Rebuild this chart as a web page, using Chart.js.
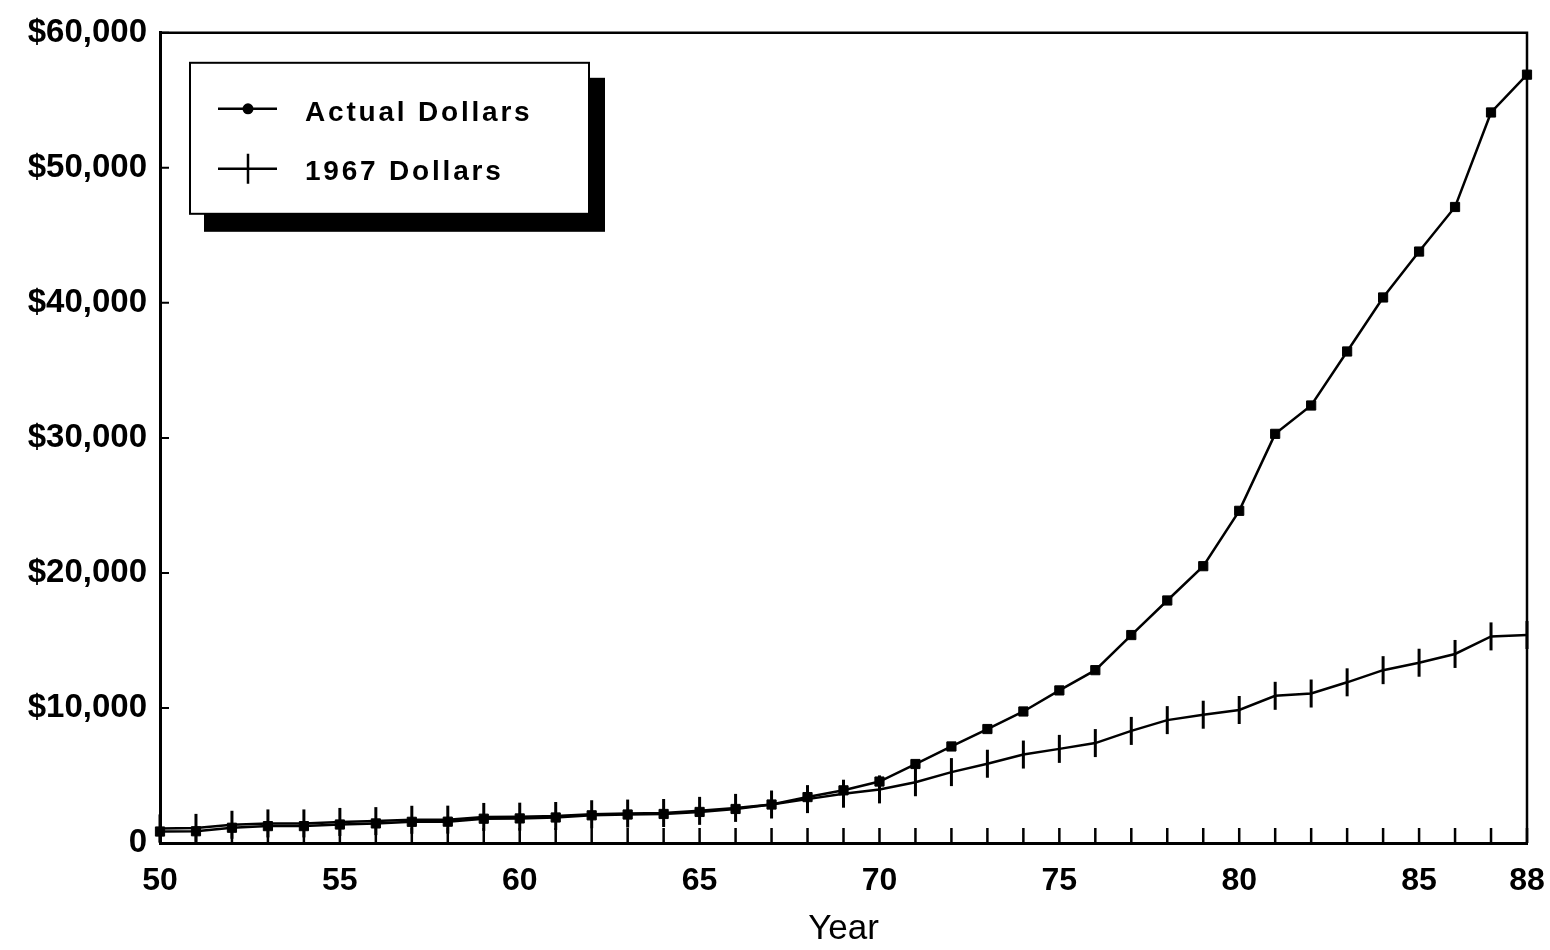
<!DOCTYPE html>
<html>
<head>
<meta charset="utf-8">
<script src="https://cdn.jsdelivr.net/npm/chart.js@4.4.1/dist/chart.umd.min.js"></script>
<style>
  html, body { margin: 0; padding: 0; background: #ffffff; }
  #wrap { position: relative; width: 1550px; height: 950px; }
</style>
</head>
<body>
<div id="wrap"><canvas id="c"></canvas></div>
<script>
const years = [50,51,52,53,54,55,56,57,58,59,60,61,62,63,64,65,66,67,68,69,70,71,72,73,74,75,76,77,78,79,80,81,82,83,84,85,86,87,88];
const actualDollars = [850,870,1130,1250,1250,1370,1450,1570,1580,1800,1820,1890,2050,2110,2150,2300,2520,2850,3400,3900,4550,5850,7150,8440,9740,11300,12800,15400,17960,20500,24600,30300,32400,36400,40400,43800,47100,54100,56900];
const dollars1967 = [1080,1120,1350,1450,1450,1560,1620,1720,1730,1930,1950,2000,2130,2180,2220,2380,2600,2850,3250,3650,3970,4500,5250,5870,6550,6970,7400,8300,9100,9500,9850,10900,11070,11900,12800,13350,14000,15300,15400];
const seriesLabels = ['Actual Dollars', '1967 Dollars'];
const xLabelYears = [50,55,60,65,70,75,80,85,88];
const yTickValues = [0,10000,20000,30000,40000,50000,60000];

const FONT = '"Liberation Sans", Arial, Helvetica, sans-serif';

const framePlugin = {
  id: 'frame',
  afterDatasetsDraw(chart) {
    const ctx = chart.ctx;
    const a = chart.chartArea;
    const xs = chart.scales.x, ys = chart.scales.y;
    ctx.save();
    ctx.strokeStyle = '#000';
    ctx.lineCap = 'butt';
    ctx.lineWidth = 2.5;
    ctx.beginPath();
    ctx.moveTo(a.left, a.top);
    ctx.lineTo(a.right, a.top);
    ctx.lineTo(a.right, a.bottom);
    ctx.stroke();
    ctx.lineWidth = 2.5;
    ctx.beginPath();
    xs.ticks.forEach(t => {
      const px = xs.getPixelForValue(t.value);
      ctx.moveTo(px, a.bottom);
      ctx.lineTo(px, a.bottom - 15);
    });
    ctx.stroke();
    ctx.lineWidth = 2;
    ctx.beginPath();
    ys.ticks.forEach(t => {
      if (t.value === 0) return;
      const py = ys.getPixelForValue(t.value);
      ctx.moveTo(a.left, py);
      ctx.lineTo(a.left + 9, py);
    });
    ctx.stroke();
    ctx.restore();
  }
};

const legendPlugin = {
  id: 'boxLegend',
  afterDraw(chart) {
    const ctx = chart.ctx;
    const a = chart.chartArea;
    const bx = a.left + 30, by = a.top + 30, bw = 399, bh = 151;
    ctx.save();
    ctx.fillStyle = '#000';
    ctx.fillRect(bx + 14, by + 15, bw + 2, bh + 3);
    ctx.fillStyle = '#fff';
    ctx.fillRect(bx, by, bw, bh);
    ctx.strokeStyle = '#000';
    ctx.lineWidth = 2;
    ctx.strokeRect(bx, by, bw, bh);
    const sx1 = bx + 28, sx2 = bx + 87, sc = bx + 58;
    const y1 = by + 46, y2 = by + 106;
    ctx.fillStyle = '#000';
    ctx.lineWidth = 2.5;
    ctx.beginPath();
    ctx.moveTo(sx1, y1); ctx.lineTo(sx2, y1);
    ctx.stroke();
    ctx.beginPath();
    ctx.arc(sc, y1, 5.5, 0, Math.PI * 2);
    ctx.fill();
    ctx.beginPath();
    ctx.moveTo(sx1, y2); ctx.lineTo(sx2, y2);
    ctx.moveTo(sc, y2 - 15); ctx.lineTo(sc, y2 + 15);
    ctx.stroke();
    ctx.font = 'bold 28px ' + FONT;
    try { ctx.letterSpacing = '2.8px'; } catch (e) {}
    ctx.textAlign = 'left';
    ctx.textBaseline = 'middle';
    ctx.fillText(seriesLabels[0], bx + 115, by + 50);
    ctx.fillText(seriesLabels[1], bx + 115, by + 109);
    ctx.restore();
  }
};

new Chart(document.getElementById('c'), {
  type: 'line',
  data: {
    labels: years,
    datasets: [
      {
        label: seriesLabels[0],
        data: years.map((y, i) => ({ x: y, y: actualDollars[i] })),
        borderColor: '#000',
        backgroundColor: '#000',
        borderWidth: 2.5,
        pointStyle: 'rect',
        pointRadius: 6.5,
        pointBackgroundColor: '#000',
        pointBorderColor: '#000',
        pointBorderWidth: 1,
        tension: 0,
        clip: false
      },
      {
        label: seriesLabels[1],
        data: years.map((y, i) => ({ x: y, y: dollars1967[i] })),
        borderColor: '#000',
        backgroundColor: '#000',
        borderWidth: 2.5,
        pointStyle: 'line',
        pointRotation: 90,
        pointRadius: 14,
        pointBorderColor: '#000',
        pointBorderWidth: 3,
        tension: 0,
        clip: false
      }
    ]
  },
  options: {
    responsive: true,
    maintainAspectRatio: false,
    animation: false,
    layout: { padding: { top: 29, right: 23, left: 0, bottom: 0 } },
    plugins: {
      legend: { display: false },
      tooltip: { enabled: false }
    },
    scales: {
      x: {
        type: 'linear',
        min: 50,
        max: 88,
        afterFit: s => { s.height = 107; s.paddingRight = 0; s.paddingLeft = 0; },
        afterBuildTicks: s => { s.ticks = years.map(v => ({ value: v })); },
        grid: { display: true, drawOnChartArea: false, drawTicks: false },
        border: { display: true, color: '#000', width: 3 },
        ticks: {
          autoSkip: false,
          maxRotation: 0,
          padding: 19,
          color: '#000',
          font: { family: FONT, size: 32, weight: 'bold' },
          callback: v => xLabelYears.includes(v) ? String(v) : ''
        },
        title: {
          display: true,
          text: 'Year',
          color: '#000',
          font: { family: FONT, size: 35, weight: 'normal' },
          padding: { top: 0, bottom: 0 }
        }
      },
      y: {
        min: 0,
        max: 60000,
        afterFit: s => { s.width = 160; },
        afterBuildTicks: s => { s.ticks = yTickValues.map(v => ({ value: v })); },
        grid: { display: true, drawOnChartArea: false, drawTicks: false },
        border: { display: true, color: '#000', width: 3 },
        ticks: {
          padding: 13,
          color: '#000',
          font: { family: FONT, size: 33, weight: 'bold' },
          callback: v => v === 0 ? '0' : '$' + v.toLocaleString('en-US')
        }
      }
    }
  },
  plugins: [framePlugin, legendPlugin]
});
</script>
</body>
</html>
